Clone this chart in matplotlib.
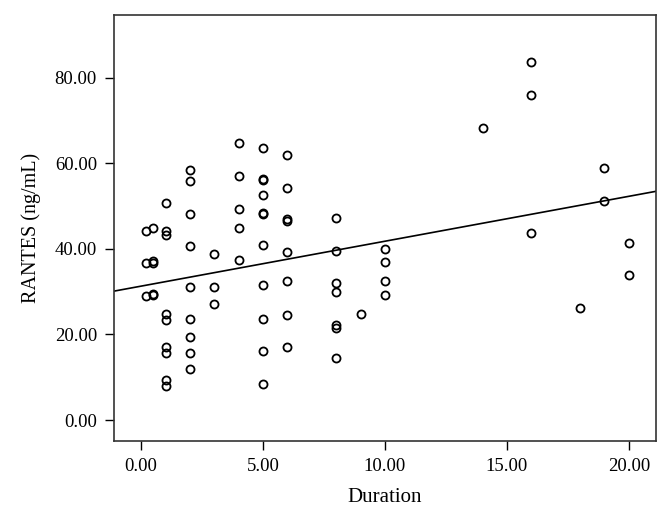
import numpy as np
import matplotlib
matplotlib.use("Agg")
import matplotlib.pyplot as plt

plt.rcParams['font.family'] = ['Liberation Serif', 'DejaVu Serif']

dur_groups = [0.2, 0.5, 1, 2, 3, 4, 5, 6, 8, 9, 10, 14, 16, 18, 19, 20]
rantes_groups = [
    [44.2, 36.6, 28.9],
    [44.8, 36.8, 37.1, 29.2, 29.5],
    [50.8, 44.3, 43.2, 24.7, 23.4, 17.0, 15.7, 9.4, 8.0],
    [58.5, 55.9, 48.2, 40.6, 31.1, 23.5, 19.5, 15.7, 11.9],
    [38.8, 31.1, 27.2],
    [64.7, 57.1, 49.4, 44.9, 37.3],
    [63.5, 56.1, 56.3, 52.6, 48.2, 48.5, 40.9, 31.5, 23.7, 16.1, 8.4],
    [61.9, 54.3, 46.6, 46.9, 39.2, 32.4, 24.6, 17.0],
    [47.3, 39.6, 32.0, 29.9, 22.1, 21.4, 14.6],
    [24.8],
    [40.0, 36.9, 32.4, 29.3],
    [68.3],
    [83.6, 76.0, 43.7],
    [26.2],
    [58.9, 51.3],
    [41.5, 33.9],
]

# fit line
fit_intercept = 31.3
fit_slope = 1.05

x = np.concatenate([[d] * len(v) for d, v in zip(dur_groups, rantes_groups)])
y = np.concatenate([np.array(v, dtype=float) for v in rantes_groups])

xticks = [0, 5, 10, 15, 20]
yticks = [0, 20, 40, 60, 80]

fig = plt.figure(figsize=(6.70, 5.21), dpi=100)
ax = fig.add_axes([0.1706, 0.1536, 0.8080, 0.8177])

ax.plot(x, y, linestyle='none', marker='o', markersize=5.8,
        markerfacecolor='none', markeredgecolor='black', markeredgewidth=1.3)

xlim = (-1.1, 21.1)
xl = np.array(xlim)
ax.plot(xl, fit_intercept + fit_slope * xl, color='black', linewidth=1.2)

ax.set_xlim(*xlim)
ax.set_ylim(-4.9, 94.7)
ax.set_xticks(xticks)
ax.set_yticks(yticks)
ax.set_xticklabels([f"{t:.2f}" for t in xticks])
ax.set_yticklabels([f"{t:.2f}" for t in yticks])
ax.tick_params(direction='out', length=6.5, width=1.0, labelsize=13.5, colors='black', pad=6)
for s in ax.spines.values():
    s.set_linewidth(1.2)
    s.set_color('#333333')
ax.set_xlabel('Duration', fontsize=15, labelpad=9)
ax.set_ylabel('RANTES (ng/mL)', fontsize=14.5, labelpad=10)

fig.savefig('out.png', dpi=100)
